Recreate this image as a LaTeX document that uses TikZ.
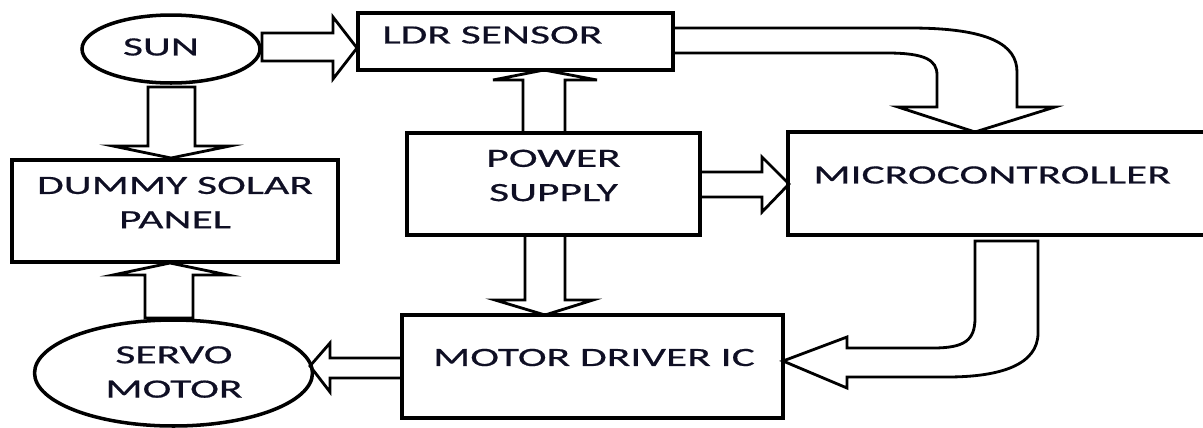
\documentclass[tikz,border=0pt]{standalone}
\usepackage{fontspec}
\setmainfont[FakeStretch=1.65,FakeBold=0.6]{Carlito}
\usetikzlibrary{shapes.geometric}
\definecolor{labelink}{rgb}{0.06,0.06,0.14}

\begin{document}
\begin{tikzpicture}[x=0.02cm, y=-0.02cm,
  every node/.style={font=\fontsize{15}{19.5}\selectfont, text=labelink},
  box/.style={draw, line width=2pt, rectangle},
  oval/.style={draw, line width=2pt, ellipse},
  txt/.style={inner sep=0pt, align=center},
  blk/.style={draw, line width=1.6pt, line join=miter}]
  \useasboundingbox (0,0) rectangle (1203,427);

  % blocks
  \node[oval, minimum width=3.56cm, minimum height=1.36cm] (sun) at (171,49) {};
  \node[box, minimum width=6.3cm, minimum height=1.14cm] (ldr) at (515.5,41.5) {};
  \node[box, minimum width=6.52cm, minimum height=2.04cm] (panel) at (175,211) {};
  \node[box, minimum width=5.86cm, minimum height=2.04cm] (power) at (553.5,184) {};
  \node[box, minimum width=8.54cm, minimum height=2.06cm] (micro) at (1001.5,183.5) {};
  \node[box, minimum width=7.62cm, minimum height=2.06cm] (driver) at (592.5,366.5) {};
  \node[oval, minimum width=5.56cm, minimum height=2.12cm] (servo) at (173.5,373) {};

  % labels
  \node[txt] (suntxt) at (161,47) {SUN};
  \node[txt, anchor=west] (ldrtxt) at (382,35) {LDR SENSOR};
  \node[txt] (paneltxt) at (175,202.5) {DUMMY SOLAR\\PANEL};
  \node[txt] (powertxt) at (553.5,175.5) {POWER\\SUPPLY};
  \node[txt, anchor=west] (microtxt) at (813,175) {MICROCONTROLLER};
  \node[txt] (drivertxt) at (594,357.5) {MOTOR DRIVER IC};
  \node[txt] (servotxt) at (174,372) {SERVO\\MOTOR};

  % block arrows
  \draw[blk] (262,33) -- (333,33) -- (333,17) -- (357,48) -- (333,79) -- (333,61) -- (262,61) -- cycle;
  \draw[blk] (148,87) -- (195,87) -- (195,146) -- (230,146) -- (171,158) -- (113,146) -- (148,146) -- cycle;
  \draw[blk] (145,318) -- (193,318) -- (193,275) -- (228,275) -- (170,263) -- (113,275) -- (145,275) -- cycle;
  \draw[blk] (402,358) -- (330,358) -- (330,343) -- (310,366) -- (330,392) -- (330,378) -- (402,378);
  \draw[blk] (523,133) -- (523,80) -- (493,80) -- (544,70) -- (597,80) -- (565,80) -- (565,133);
  \draw[blk] (525,235) -- (525,300) -- (495,300) -- (545,315) -- (593,300) -- (565,300) -- (565,235);
  \draw[blk] (700,172) -- (762,172) -- (762,157) -- (789,184) -- (762,212) -- (762,197) -- (700,197);

  % curved block arrows
  \draw[blk] (673,28) -- (910,28) .. controls (990,28) and (1017,45) .. (1017,72)
    -- (1017,107) -- (1055,107) -- (975,132) -- (898,107) -- (937,107) -- (937,75)
    .. controls (937,60) and (925,53) .. (887,53) -- (673,53);
  \draw[blk] (975,241) -- (1038,241) -- (1038,333) .. controls (1038,365) and (1000,377) .. (947,377)
    -- (847,377) -- (847,388) -- (783,361) -- (847,337) -- (847,348) -- (933,348)
    .. controls (965,348) and (975,340) .. (975,318) -- cycle;
\end{tikzpicture}
\end{document}
